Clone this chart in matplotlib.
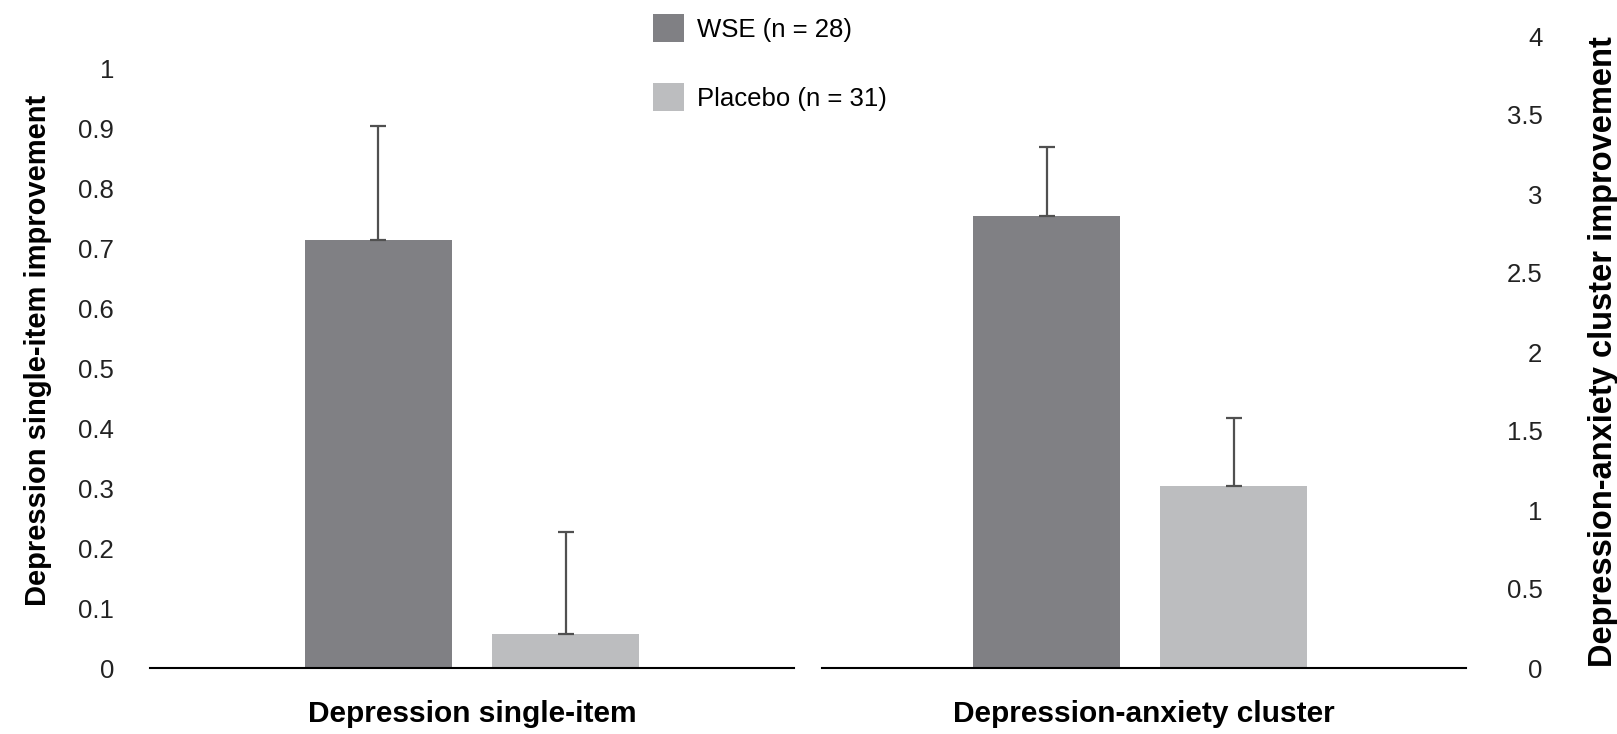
import matplotlib.pyplot as plt
from matplotlib.patches import Patch

plt.rcParams['font.family'] = ['Liberation Sans', 'DejaVu Sans']

groups = ["WSE (n = 28)", "Placebo (n = 31)"]
colors = ["#808084", "#bcbdbf"]

# values (mean improvement, upper error)
single_means = [0.713, 0.056]
single_err = [0.19, 0.171]
cluster_means = [2.86, 1.15]
cluster_err = [0.44, 0.43]

W, H = 1617, 734
fig = plt.figure(figsize=(W / 100, H / 100), dpi=100)

def px_axes(x0, x1, y_top, y_bottom):
    return fig.add_axes([x0 / W, 1 - y_bottom / H, (x1 - x0) / W, (y_bottom - y_top) / H])

ax1 = px_axes(150, 794, 68, 668)
ax2 = px_axes(822, 1466, 36, 668)

x = [0, 1]
for ax, means, errs, ymax, cat in [
    (ax1, single_means, single_err, 1, "Depression single-item"),
    (ax2, cluster_means, cluster_err, 4, "Depression-anxiety cluster"),
]:
    ax.bar(x, means, width=0.785, color=colors, zorder=2)
    ax.errorbar(x, means, yerr=[[0, 0], errs], fmt='none', ecolor="#505050",
                elinewidth=1.6, capsize=6, capthick=1.6, zorder=3)
    ax.set_ylim(0, ymax)
    for s in ["top", "left", "right"]:
        ax.spines[s].set_visible(False)
    ax.spines["bottom"].set_linewidth(1.5)
    ax.spines["bottom"].set_zorder(4)
    ax.set_xticks([])
    ax.tick_params(axis='y', length=0, labelsize=18.5, labelcolor="#222222")
    ax.set_xlabel(cat, fontsize=21.5, fontweight='bold', labelpad=23)

ax1.set_xlim(-1.22, 2.22)
ax2.set_xlim(-1.20, 2.24)

ax1.set_yticks([i / 10 for i in range(11)])
ax1.set_yticklabels(["0", "0.1", "0.2", "0.3", "0.4", "0.5", "0.6", "0.7", "0.8", "0.9", "1"])
ax1.tick_params(axis='y', pad=26)
ax1.set_ylabel("Depression single-item improvement", fontsize=21, fontweight='bold', labelpad=19)
ax1.yaxis.label.set_y(0.53)

ax2.set_yticks([0, 0.5, 1, 1.5, 2, 2.5, 3, 3.5, 4])
ax2.set_yticklabels(["0", "0.5", "1", "1.5", "2", "2.5", "3", "3.5", "4"])
ax2.yaxis.tick_right()
ax2.tick_params(axis='y', pad=55)
for lbl in ax2.get_yticklabels():
    lbl.set_horizontalalignment('right')
ax2.yaxis.set_label_position("right")
ax2.set_ylabel("Depression-anxiety cluster improvement", fontsize=23.5, fontweight='bold',
               rotation=90, labelpad=33)

handles = [Patch(facecolor=c, edgecolor='none') for c in colors]
fig.legend(handles, groups, loc='upper left', bbox_to_anchor=(653 / W, 1 - 14 / H),
           frameon=False, fontsize=18.5, handlelength=1.2, handleheight=1.3,
           handletextpad=0.5, labelspacing=1.6, borderpad=0, borderaxespad=0)

plt.savefig("out.png", dpi=100)
